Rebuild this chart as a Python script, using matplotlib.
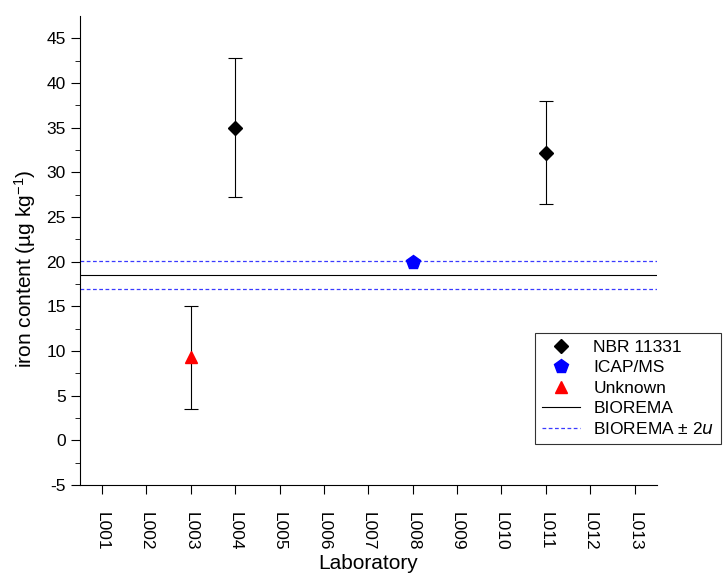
import numpy as np
import matplotlib.pyplot as plt
from matplotlib.lines import Line2D

plt.rcParams['font.family'] = ['Liberation Sans', 'DejaVu Sans']
plt.rcParams['axes.unicode_minus'] = False
plt.rcParams['mathtext.default'] = 'regular'

labs = ['L%03d' % i for i in range(1, 14)]

# measured results (lab position, value, lower, upper)
nbr_x = [4, 11]
nbr_y = [35.0, 32.2]
nbr_lo = [27.2, 26.5]
nbr_hi = [42.8, 38.0]

icap_x = [8]
icap_y = [20.0]

unk_x = [3]
unk_y = [9.3]
unk_lo = [3.5]
unk_hi = [15.0]

biorema = 18.5
biorema_lo = 16.9
biorema_hi = 20.1

fig = plt.figure(figsize=(7.25, 5.74), dpi=100)
ax = fig.add_axes([0.110, 0.155, 0.796, 0.817])

ax.axhline(biorema, color='k', lw=0.8)
ax.axhline(biorema_hi, color='#3a3aff', lw=0.9, ls=(0, (3, 2)))
ax.axhline(biorema_lo, color='#3a3aff', lw=0.9, ls=(0, (3, 2)))

nbr_x = np.array(nbr_x); nbr_y = np.array(nbr_y)
ax.errorbar(nbr_x, nbr_y, yerr=[nbr_y - np.array(nbr_lo), np.array(nbr_hi) - nbr_y],
            fmt='D', color='k', ms=7, ecolor='k', elinewidth=0.8, capsize=5, capthick=0.8)
ax.plot(icap_x, icap_y, 'p', color='blue', ms=10, zorder=5)
unk_y = np.array(unk_y)
ax.errorbar(unk_x, unk_y, yerr=[unk_y - np.array(unk_lo), np.array(unk_hi) - unk_y],
            fmt='none', ecolor='k', elinewidth=0.8, capsize=5, capthick=0.8)
ax.plot(unk_x, unk_y, '^', color='red', ms=9, zorder=5)

ax.set_xlim(0.5, 13.5)
ax.set_ylim(-5, 47.5)
ax.set_xticks(range(1, 14))
ax.set_xticklabels(labs, rotation=270, fontsize=12.5)
ax.set_yticks(np.arange(-5, 46, 5))
ax.set_yticks(np.arange(-5, 47.5, 2.5), minor=True)
ax.tick_params(axis='y', labelsize=12.5, direction='out', length=6.5)
ax.tick_params(axis='y', which='minor', length=3.5)
ax.tick_params(axis='x', direction='out', length=6.5, pad=13)
ax.spines['top'].set_visible(False)
ax.spines['right'].set_visible(False)

ax.set_xlabel('Laboratory', fontsize=15, labelpad=2)
ax.set_ylabel('iron content (µg kg$^{-1}$)', fontsize=15)
ax.yaxis.set_label_coords(-0.072, 0.46)

handles = [
    Line2D([], [], marker='D', color='k', ls='none', ms=7),
    Line2D([], [], marker='p', color='blue', ms=10, ls='none'),
    Line2D([], [], marker='^', color='red', ls='none', ms=9),
    Line2D([], [], color='k', lw=0.8),
    Line2D([], [], color='#3a3aff', lw=0.9, ls=(0, (3, 2))),
]
names = ['NBR 11331', 'ICAP/MS', 'Unknown', 'BIOREMA', 'BIOREMA ± 2$\\it{u}$']
leg = fig.legend(handles, names, loc='upper left', bbox_to_anchor=(0.738, 0.420),
                 fontsize=12.5, frameon=True, fancybox=False, edgecolor='k',
                 handlelength=2.2, borderpad=0.4, labelspacing=0.3,
                 handletextpad=0.75, borderaxespad=0)
leg.get_frame().set_linewidth(0.8)

fig.savefig('out.png', dpi=100)
